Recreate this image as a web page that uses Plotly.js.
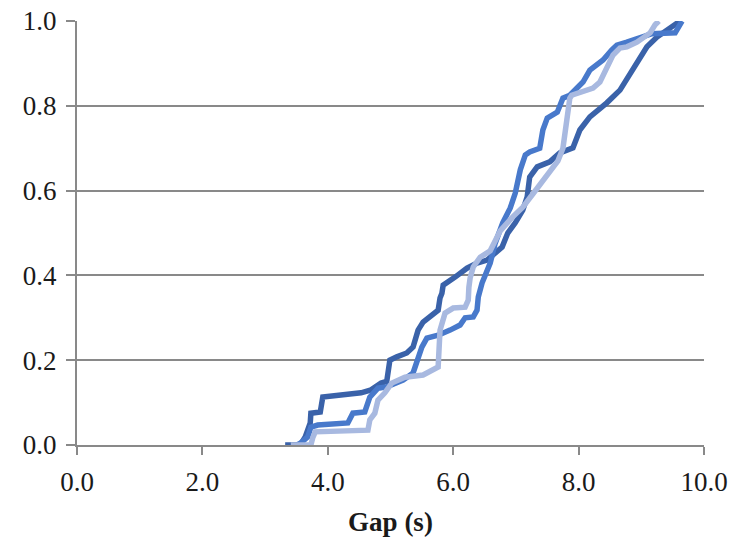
<!DOCTYPE html>
<html>
<head>
<meta charset="utf-8">
<script src="https://cdn.plot.ly/plotly-3.0.1.min.js"></script>
<style>html,body{margin:0;padding:0;background:#fff;}#chart{width:733px;height:541px;}</style>
</head>
<body>
<div id="chart"></div>
<script>
// Series 1 (dark blue)
const darkX = [3.32,3.56,3.64,3.72,3.73,3.88,3.92,4.27,4.53,4.69,4.85,4.94,4.99,5.10,5.26,5.36,5.44,5.52,5.68,5.76,5.79,5.82,5.84,5.90,6.03,6.22,6.38,6.54,6.78,6.87,6.99,7.11,7.18,7.22,7.34,7.54,7.70,7.91,8.02,8.18,8.45,8.66,8.82,8.98,9.09,9.25,9.46,9.62];
const darkY = [0,0,0.019,0.052,0.075,0.078,0.113,0.118,0.123,0.130,0.146,0.150,0.200,0.208,0.217,0.231,0.271,0.290,0.307,0.318,0.347,0.358,0.377,0.384,0.396,0.417,0.429,0.436,0.467,0.500,0.524,0.554,0.585,0.632,0.656,0.668,0.689,0.701,0.743,0.774,0.807,0.837,0.873,0.913,0.939,0.962,0.983,1.0];
// Series 2 (medium blue)
const medX = [3.51,3.57,3.68,3.73,3.84,4.32,4.40,4.59,4.67,4.80,4.94,5.20,5.36,5.44,5.50,5.58,5.76,5.95,6.11,6.19,6.32,6.38,6.40,6.46,6.54,6.59,6.67,6.79,6.91,6.99,7.07,7.15,7.22,7.38,7.43,7.50,7.66,7.75,7.86,8.07,8.18,8.39,8.53,8.61,8.77,8.98,9.17,9.54,9.65];
const medY = [0,0.005,0.019,0.042,0.047,0.052,0.075,0.078,0.113,0.134,0.137,0.153,0.170,0.200,0.231,0.252,0.259,0.271,0.283,0.300,0.302,0.318,0.349,0.382,0.413,0.429,0.476,0.524,0.559,0.594,0.649,0.684,0.691,0.700,0.743,0.771,0.785,0.818,0.825,0.856,0.884,0.908,0.932,0.943,0.950,0.962,0.970,0.972,1.0];
// Series 3 (light blue)
const lightX = [3.41,3.73,3.76,3.80,4.64,4.67,4.75,4.80,4.91,5.02,5.23,5.52,5.76,5.77,5.79,5.87,6.00,6.19,6.24,6.25,6.27,6.32,6.43,6.59,6.75,6.95,7.11,7.27,7.43,7.59,7.67,7.75,7.81,7.86,7.89,8.23,8.34,8.45,8.55,8.66,8.77,8.93,9.03,9.14,9.22,9.28];
const lightY = [0,0,0.017,0.031,0.035,0.059,0.075,0.106,0.123,0.146,0.160,0.165,0.184,0.224,0.271,0.311,0.323,0.325,0.342,0.372,0.394,0.420,0.443,0.458,0.505,0.538,0.561,0.592,0.623,0.656,0.670,0.700,0.759,0.818,0.825,0.842,0.856,0.889,0.920,0.936,0.939,0.950,0.960,0.972,0.991,1.0];

const xTicks = [0,2,4,6,8,10];
const xTickText = ["0.0","2.0","4.0","6.0","8.0","10.0"];
const yTicks = [0,0.2,0.4,0.6,0.8,1.0];
const yTickText = ["0.0","0.2","0.4","0.6","0.8","1.0"];

const mk = (x, y, c) => ({x: x, y: y, type: 'scatter', mode: 'lines', line: {color: c, width: 5.5}, hoverinfo: 'skip', cliponaxis: false});
const data = [
  mk(darkX, darkY, '#3a62a9'),
  mk(medX, medY, '#4879cb'),
  mk(lightX, lightY, '#a8b9e0')
];
const font = {family: '"Liberation Serif", "Times New Roman", serif', size: 27, color: '#1a1a1a'};
const layout = {
  width: 733, height: 541,
  margin: {l: 77, r: 29, t: 21, b: 96},
  paper_bgcolor: '#fff', plot_bgcolor: '#fff',
  showlegend: false,
  font: font,
  xaxis: {
    range: [0, 10], tickvals: xTicks, ticktext: xTickText,
    showgrid: false, zeroline: false, showline: true, linecolor: '#898989', linewidth: 2,
    ticks: 'outside', ticklen: 8, tickwidth: 2, tickcolor: '#898989',
    ticklabelstandoff: 4,
    tickfont: font, fixedrange: true,
    title: {text: '<b>Gap (s)</b>', font: {family: font.family, size: 27, color: '#1a1a1a'}, standoff: 16}
  },
  yaxis: {
    range: [0, 1], tickvals: yTicks, ticktext: yTickText,
    showgrid: true, gridcolor: '#898989', gridwidth: 2,
    zeroline: false, showline: true, linecolor: '#898989', linewidth: 2,
    ticks: 'outside', ticklen: 9, tickwidth: 2, tickcolor: '#898989',
    ticklabelstandoff: 4,
    tickfont: font, fixedrange: true
  }
};
Plotly.newPlot('chart', data, layout, {displayModeBar: false, staticPlot: true});
</script>
</body>
</html>
